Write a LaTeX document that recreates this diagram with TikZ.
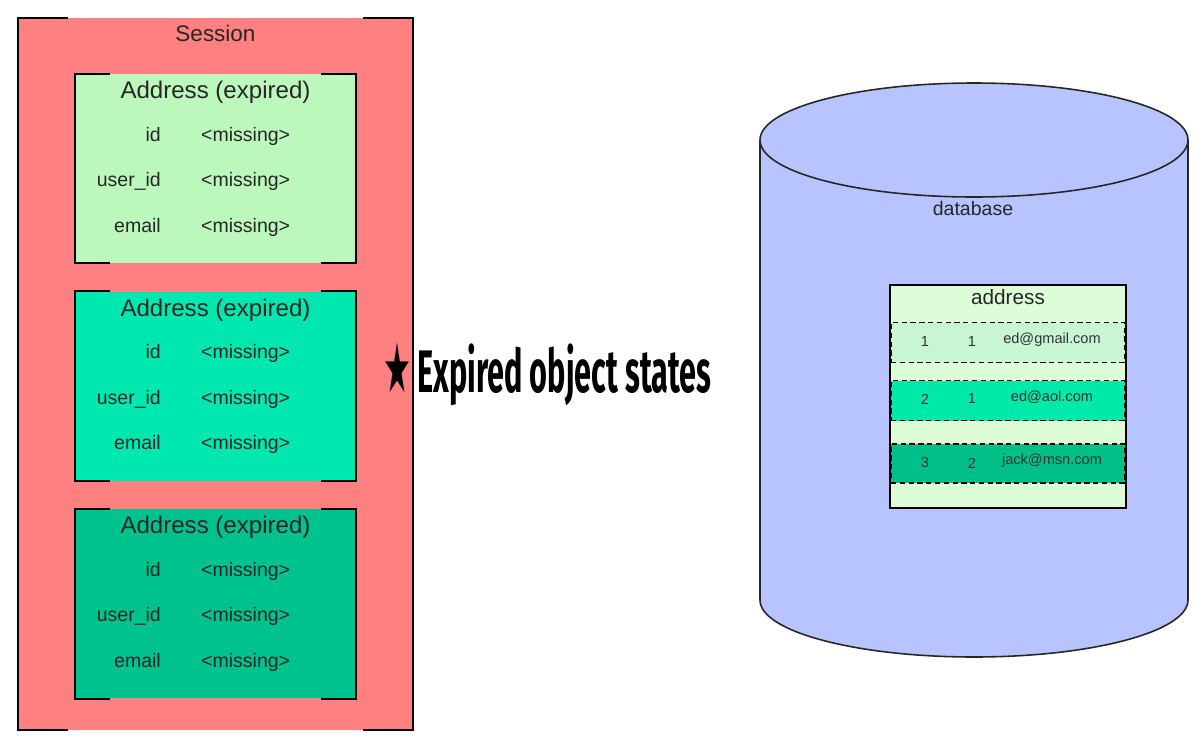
\documentclass[tikz,border=0pt]{standalone}
\usepackage{fontspec}
\setmainfont{Liberation Sans}
\newfontfamily\starfont{DejaVu Sans}
\newfontfamily\handfont{Fira Sans}
\usepackage{graphicx}
\usetikzlibrary{positioning, calc}
\definecolor{sessionred}{RGB}{255,128,128}
\definecolor{stateone}{RGB}{188,248,188}
\definecolor{statetwo}{RGB}{0,232,176}
\definecolor{statethree}{RGB}{0,194,142}
\definecolor{dbblue}{RGB}{184,196,255}
\definecolor{tablebg}{RGB}{221,252,216}
\definecolor{rowone}{RGB}{200,246,210}
\definecolor{rowtwo}{RGB}{0,232,170}
\definecolor{rowthree}{RGB}{0,192,136}

\begin{document}
\begin{tikzpicture}[
                x=0.02cm, y=-0.02cm,
                session/.style={rectangle, fill=sessionred, minimum width=7.9cm, minimum height=14.24cm, inner sep=0pt},
                instance/.style={rectangle, minimum width=5.62cm, minimum height=3.78cm, inner sep=0pt},
                bracket/.style={draw=black, line width=1.2pt},
                boxtitle/.style={font=\fontsize{13.7}{16}\selectfont, text=black!85},
                fields/.style={font=\fontsize{11.1}{25.9}\selectfont, text=black!85, inner sep=0pt},
                dbtable/.style={rectangle, draw=black, line width=1.1pt, fill=tablebg, minimum width=4.72cm, minimum height=4.46cm, inner sep=0pt},
                dbrow/.style={rectangle, draw=black, line width=1.1pt, dash pattern=on 3pt off 2pt, minimum width=4.68cm, minimum height=0.8cm, inner sep=0pt},
                cell/.style={font=\fontsize{8.3}{10}\selectfont, text=black!80},
                label/.style={font=\fontsize{11.1}{13}\selectfont, text=black!85}
            ]%
            \useasboundingbox (0,0) rectangle (1201,738);
            %
            % Session
            \node[session] (session) at (215.5,374) {};
            \node[boxtitle, font=\fontsize{12.8}{15}\selectfont] (sessiont) at ($(session.north)+(0,16)$) {Session};
            \draw[bracket] (session.south west) ++(50,0) -- (session.south west) -- (session.north west) -- ++(50,0);
            \draw[bracket] (session.south east) ++(-50,0) -- (session.south east) -- (session.north east) -- ++(-50,0);
            %
            % Objetos expirados
            \node[instance, fill=stateone, below=1.12cm of session.north] (a1) {};
            \node[instance, fill=statetwo, below=0.56cm of a1] (a2) {};
            \node[instance, fill=statethree, below=0.56cm of a2] (a3) {};
            %
            \node[boxtitle] (a1t) at ($(a1.north)+(0,18.5)$) {Address (expired)};
            \node[boxtitle] (a2t) at ($(a2.north)+(0,18.5)$) {Address (expired)};
            \node[boxtitle] (a3t) at ($(a3.north)+(0,18.5)$) {Address (expired)};
            %
            \node[fields] (a1f) at ($(a1.center)+(-22,9)$) {\begin{tabular}{@{}r@{\hspace{23pt}}l@{}}id & <missing>\\ user\_id & <missing>\\ email & <missing>\end{tabular}};
            \node[fields] (a2f) at ($(a2.center)+(-22,9)$) {\begin{tabular}{@{}r@{\hspace{23pt}}l@{}}id & <missing>\\ user\_id & <missing>\\ email & <missing>\end{tabular}};
            \node[fields] (a3f) at ($(a3.center)+(-22,9)$) {\begin{tabular}{@{}r@{\hspace{23pt}}l@{}}id & <missing>\\ user\_id & <missing>\\ email & <missing>\end{tabular}};
            %
            \draw[bracket] (a1.south west) ++(35,0) -- (a1.south west) -- (a1.north west) -- ++(35,0);
            \draw[bracket] (a1.south east) ++(-35,0) -- (a1.south east) -- (a1.north east) -- ++(-35,0);
            \draw[bracket] (a2.south west) ++(35,0) -- (a2.south west) -- (a2.north west) -- ++(35,0);
            \draw[bracket] (a2.south east) ++(-35,0) -- (a2.south east) -- (a2.north east) -- ++(-35,0);
            \draw[bracket] (a3.south west) ++(35,0) -- (a3.south west) -- (a3.north west) -- ++(35,0);
            \draw[bracket] (a3.south east) ++(-35,0) -- (a3.south east) -- (a3.north east) -- ++(-35,0);
            %
            % Nota a mano
            \node[anchor=west, inner sep=0pt] (note) at (383,374) {{\starfont\resizebox*{0.56cm}{1.0cm}{★}}\hspace{0.12cm}{\handfont\bfseries\resizebox*{5.88cm}{1.24cm}{Expired object states}}};
            %
            % Base de datos (cilindro)
            \filldraw[fill=dbblue, draw=black!85, line width=0.9pt] (760,140) -- (760,600) arc (180:0:214 and 57) -- (1188,140) arc (0:-180:214 and 57) -- cycle;
            \draw[black!85, line width=0.9pt] (760,140) arc (180:0:214 and 57);
            \node[label] (dblabel) at (973,209) {database};
            %
            % Tabla address
            \node[dbtable] (tbl) at (1008,396.5) {};
            \node[label, font=\fontsize{11.8}{14}\selectfont] (tblt) at ($(tbl.north)+(0,13)$) {address};
            \node[dbrow, fill=rowone] (r1) at (1008,342.5) {};
            \node[dbrow, fill=rowtwo] (r2) at (1008,400.5) {};
            \node[dbrow, fill=rowthree, minimum height=0.78cm] (r3) at (1008,463.5) {};
            %
            \node[cell] (r1a) at (925,341) {1};
            \node[cell] (r1b) at (972,341) {1};
            \node[cell] (r1c) at (1052,340) {ed@gmail.com};
            \node[cell] (r2a) at (925,399) {2};
            \node[cell] (r2b) at (972,398) {1};
            \node[cell] (r2c) at (1052,397) {ed@aol.com};
            \node[cell] (r3a) at (925,462) {3};
            \node[cell] (r3b) at (972,463) {2};
            \node[cell] (r3c) at (1052,461) {jack@msn.com};
        \end{tikzpicture}
\end{document}
